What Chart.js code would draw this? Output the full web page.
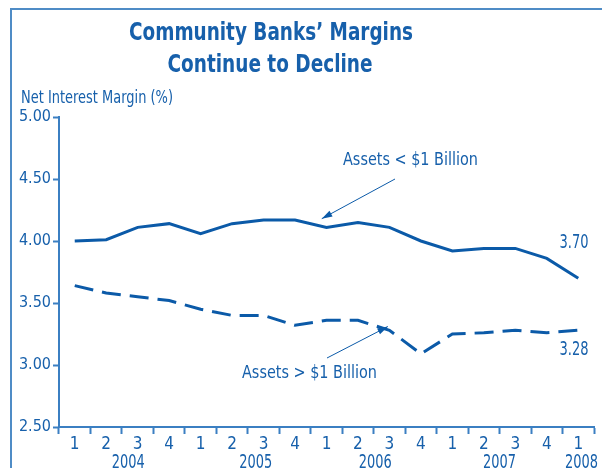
<!DOCTYPE html>
<html>
<head>
<meta charset="utf-8">
<script src="https://cdn.jsdelivr.net/npm/chart.js@4.4.1/dist/chart.umd.min.js"></script>
<style>
  html, body { margin: 0; padding: 0; background: #fff; }
  #wrap { width: 602px; height: 468px; }
</style>
</head>
<body>
<div id="wrap"><canvas id="grafico" width="602" height="468"></canvas></div>
<script>
// dados
const quarters = ['1','2','3','4','1','2','3','4','1','2','3','4','1','2','3','4','1'];
const years = ['2004', '2005', '2006', '2007', '2008'];
const smallBanks = [4.00, 4.01, 4.11, 4.14, 4.06, 4.14, 4.17, 4.17, 4.11, 4.15, 4.11, 4.00, 3.92, 3.94, 3.94, 3.86, 3.70];
const largeBanks = [3.64, 3.58, 3.55, 3.52, 3.45, 3.40, 3.40, 3.32, 3.36, 3.36, 3.28, 3.09, 3.25, 3.26, 3.28, 3.26, 3.28];
const yTicks = [2.5, 3.0, 3.5, 4.0, 4.5, 5.0];

const azul = '#0b5aa8';
const azulTexto = '#1760ab';
const azulEixo = '#3b7fc2';
const fonte = "'Liberation Sans Narrow', 'DejaVu Sans Condensed', sans-serif";

// escreve o texto apertado na largura pedida (fonte condensada)
function textoLargura(ctx, txt, x, y, largura, align) {
    const w = ctx.measureText(txt).width;
    const k = Math.min(1, largura / w);
    ctx.save();
    let x0 = x;
    if (align === 'center') x0 = x - (w * k) / 2;
    if (align === 'right') x0 = x - w * k;
    ctx.translate(x0, y);
    ctx.scale(k, 1);
    ctx.textAlign = 'left';
    ctx.fillText(txt, 0, 0);
    ctx.restore();
}

// titulo, moldura, rotulos e setas
const extras = {
    id: 'extras',
    beforeDraw(chart) {
        const ctx = chart.ctx;
        ctx.save();
        ctx.strokeStyle = '#4f8cc6';
        ctx.lineWidth = 2;
        ctx.beginPath();
        ctx.moveTo(11, 468);
        ctx.lineTo(11, 9);
        ctx.lineTo(602, 9);
        ctx.stroke();
        ctx.restore();
    },
    afterDraw(chart) {
        const ctx = chart.ctx;
        const x = chart.scales.x;
        const y = chart.scales.y;
        ctx.save();
        ctx.fillStyle = azulTexto;
        ctx.textBaseline = 'alphabetic';
        ctx.font = 'bold 25px ' + fonte;
        textoLargura(ctx, 'Community Banks\u2019 Margins', 271, 40, 284, 'center');
        textoLargura(ctx, 'Continue to Decline', 270, 72, 205, 'center');

        ctx.font = '18px ' + fonte;
        textoLargura(ctx, 'Net Interest Margin (%)', 21, 103, 152, 'left');

        // anos embaixo dos trimestres
        const posAno = [1.7, 5.75, 9.55, 13.5, 16.1];
        ctx.font = '19px ' + fonte;
        years.forEach((ano, i) => {
            textoLargura(ctx, ano, x.getPixelForValue(posAno[i]), 468, 33, 'center');
        });

        // rotulos das series
        ctx.font = '18px ' + fonte;
        textoLargura(ctx, 'Assets < $1 Billion', 343, 165, 135, 'left');
        textoLargura(ctx, 'Assets > $1 Billion', 242, 378, 135, 'left');
        ctx.font = '19px ' + fonte;
        textoLargura(ctx, smallBanks[smallBanks.length - 1].toFixed(2), 574, 248, 29, 'center');
        textoLargura(ctx, largeBanks[largeBanks.length - 1].toFixed(2), 574, 355, 29, 'center');

        // setas
        const seta = (x1, y1, x2, y2) => {
            ctx.strokeStyle = azul;
            ctx.fillStyle = azul;
            ctx.lineWidth = 1;
            ctx.beginPath();
            ctx.moveTo(x1, y1);
            ctx.lineTo(x2, y2);
            ctx.stroke();
            const ang = Math.atan2(y2 - y1, x2 - x1);
            ctx.beginPath();
            ctx.moveTo(x2, y2);
            ctx.lineTo(x2 - 11 * Math.cos(ang - 0.3), y2 - 11 * Math.sin(ang - 0.3));
            ctx.lineTo(x2 - 11 * Math.cos(ang + 0.3), y2 - 11 * Math.sin(ang + 0.3));
            ctx.closePath();
            ctx.fill();
        };
        seta(395, 179, x.getPixelForValue(7.85), y.getPixelForValue(4.18));
        seta(327, 358, x.getPixelForValue(9.95), y.getPixelForValue(3.31));
        ctx.restore();
    }
};

new Chart(document.getElementById('grafico'), {
    type: 'line',
    data: {
        labels: quarters,
        datasets: [
            {
                label: 'Assets < $1 Billion',
                data: smallBanks,
                borderColor: azul,
                borderWidth: 3,
                pointRadius: 0,
                tension: 0,
                fill: false
            },
            {
                label: 'Assets > $1 Billion',
                data: largeBanks,
                borderColor: azul,
                borderWidth: 3,
                borderDash: [19, 9],
                pointRadius: 0,
                tension: 0,
                fill: false
            }
        ]
    },
    options: {
        responsive: false,
        animation: false,
        devicePixelRatio: 1,
        layout: { padding: { top: 117, right: 8, bottom: 0, left: 0 } },
        plugins: {
            legend: { display: false },
            title: { display: false },
            tooltip: { enabled: false }
        },
        scales: {
            x: {
                type: 'category',
                offset: true,
                border: { color: azulEixo, width: 2 },
                grid: {
                    offset: true,
                    drawOnChartArea: false,
                    drawTicks: true,
                    tickLength: 7,
                    tickWidth: 2,
                    tickColor: azulEixo
                },
                ticks: {
                    color: azulTexto,
                    font: { family: fonte, size: 17 },
                    maxRotation: 0,
                    autoSkip: false,
                    padding: 0
                },
                afterFit(scale) { scale.height = 41; }
            },
            y: {
                min: 2.5,
                max: 5.0,
                afterBuildTicks(scale) {
                    scale.ticks = yTicks.map(v => ({ value: v }));
                },
                border: { color: azulEixo, width: 2 },
                grid: {
                    drawOnChartArea: false,
                    drawTicks: true,
                    tickLength: 6,
                    tickWidth: 2,
                    tickColor: azulEixo
                },
                ticks: {
                    color: azulTexto,
                    font: { family: fonte, size: 16 },
                    padding: 2,
                    callback: v => Number(v).toFixed(2)
                },
                afterFit(scale) { scale.width = 59; }
            }
        }
    },
    plugins: [extras]
});
</script>
</body>
</html>
